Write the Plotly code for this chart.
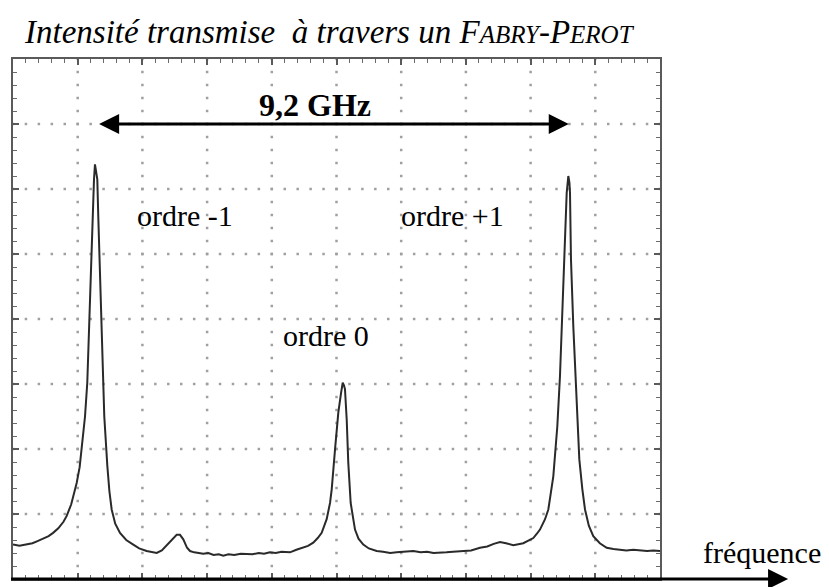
import numpy as np
import plotly.graph_objects as go

# Oscilloscope trace of the Fabry-Perot transmission (screen divisions)
freq_div = [
    0.00, 0.10, 0.20, 0.30, 0.37, 0.45, 0.55, 0.62, 0.70, 0.78,
    0.83, 0.90, 0.985, 1.03, 1.062, 1.09, 1.113, 1.148, 1.179, 1.206,
    1.232, 1.252, 1.267, 1.285, 1.303, 1.318, 1.345, 1.380, 1.411, 1.458,
    1.49, 1.525, 1.58, 1.654, 1.75, 1.859, 1.95, 2.066, 2.15, 2.221,
    2.30, 2.38, 2.44, 2.478, 2.53, 2.581, 2.632, 2.69, 2.736, 2.80,
    2.87, 2.941, 3.02, 3.10, 3.18, 3.25, 3.33, 3.42, 3.52, 3.612,
    3.70, 3.80, 3.88, 3.972, 4.06, 4.15, 4.22, 4.281, 4.38, 4.487,
    4.56, 4.641, 4.71, 4.771, 4.848, 4.90, 4.926, 4.977, 5.028, 5.07,
    5.096, 5.115, 5.131, 5.158, 5.182, 5.219, 5.25, 5.286, 5.34, 5.414,
    5.50, 5.621, 5.72, 5.83, 5.93, 6.05, 6.187, 6.30, 6.40, 6.50,
    6.60, 6.70, 6.80, 6.96, 7.08, 7.218, 7.33, 7.43, 7.527, 7.62,
    7.733, 7.887, 7.97, 8.042, 8.10, 8.145, 8.223, 8.274, 8.351, 8.413,
    8.454, 8.490, 8.521, 8.558, 8.583, 8.600, 8.609, 8.624, 8.660, 8.702,
    8.753, 8.80, 8.841, 8.90, 8.969, 9.07, 9.176, 9.28, 9.38, 9.48,
    9.587, 9.70, 9.80, 9.90, 10.0,
]
intensity_div = [
    0.53, 0.51, 0.53, 0.55, 0.58, 0.62, 0.66, 0.71, 0.78, 0.88,
    0.97, 1.15, 1.48, 1.72, 1.99, 2.25, 2.50, 3.02, 3.94, 4.92,
    5.84, 6.15, 6.38, 6.25, 6.15, 5.58, 4.56, 3.53, 2.50, 1.74,
    1.35, 1.07, 0.85, 0.71, 0.60, 0.53, 0.47, 0.43, 0.41, 0.40,
    0.44, 0.52, 0.58, 0.62, 0.68, 0.68, 0.61, 0.48, 0.43, 0.41,
    0.40, 0.39, 0.40, 0.37, 0.38, 0.36, 0.38, 0.37, 0.39, 0.39,
    0.38, 0.40, 0.39, 0.41, 0.40, 0.42, 0.41, 0.41, 0.45, 0.48,
    0.51, 0.56, 0.63, 0.71, 0.92, 1.17, 1.38, 1.99, 2.56, 2.86,
    3.02, 2.98, 2.92, 2.45, 1.79, 1.17, 0.95, 0.76, 0.62, 0.53,
    0.47, 0.43, 0.42, 0.40, 0.41, 0.42, 0.43, 0.41, 0.42, 0.40,
    0.40, 0.41, 0.42, 0.43, 0.44, 0.48, 0.50, 0.54, 0.57, 0.55,
    0.52, 0.55, 0.59, 0.63, 0.70, 0.76, 0.92, 1.07, 1.58, 2.35,
    3.12, 4.15, 5.17, 5.94, 6.20, 6.10, 5.94, 4.92, 3.89, 2.86,
    1.84, 1.38, 1.07, 0.82, 0.66, 0.55, 0.48, 0.46, 0.45, 0.44,
    0.45, 0.44, 0.43, 0.44, 0.43,
]
assert len(freq_div) == len(intensity_div)

# Order labels: text, x, y (divisions)
order_labels = ["ordre -1", "ordre 0", "ordre +1"]
order_label_x = [2.66, 4.84, 6.79]
order_label_y = [5.59, 3.74, 5.59]

# Free spectral range arrow between orders -1 and +1
fsr_text = "9,2 GHz"
fsr_ends = [1.33, 8.59]
fsr_level = 7.0

N_X_DIV, N_Y_DIV = 10, 8

fig = go.Figure()

# dotted graticule: a dot every fifth of a division along each major line
gx, gy = [], []
sub = np.round(np.arange(0, N_Y_DIV + 1e-9, 0.2), 3)
for xv in range(1, N_X_DIV):
    gx += [xv] * len(sub)
    gy += list(sub)
sub = np.round(np.arange(0, N_X_DIV + 1e-9, 0.2), 3)
for yv in range(1, N_Y_DIV):
    gx += list(sub)
    gy += [yv] * len(sub)
fig.add_trace(go.Scatter(
    x=gx, y=gy, mode="markers", hoverinfo="skip",
    marker=dict(symbol="square", size=2.5, color="#a0a0a0", line=dict(width=0)),
))

fig.add_trace(go.Scatter(
    x=freq_div, y=intensity_div, mode="lines",
    line=dict(color="#2a2a2a", width=2),
))

serif = "Liberation Serif, Times New Roman, serif"

# horizontal double arrow
dx_head, dy_head = 0.31, 0.155
a, b = fsr_ends
fig.add_shape(type="line", x0=a + dx_head * 0.8, x1=b - dx_head * 0.8,
              y0=fsr_level, y1=fsr_level, line=dict(color="black", width=3))
fig.add_shape(type="path",
              path=f"M {a} {fsr_level} L {a + dx_head} {fsr_level + dy_head} "
                   f"L {a + dx_head} {fsr_level - dy_head} Z",
              fillcolor="black", line=dict(width=0))
fig.add_shape(type="path",
              path=f"M {b} {fsr_level} L {b - dx_head} {fsr_level + dy_head} "
                   f"L {b - dx_head} {fsr_level - dy_head} Z",
              fillcolor="black", line=dict(width=0))
fig.add_annotation(x=4.67, y=7.30, text=f"<b>{fsr_text}</b>",
                   showarrow=False, font=dict(family=serif, size=32, color="black"))

for txt, xv, yv in zip(order_labels, order_label_x, order_label_y):
    fig.add_annotation(x=xv, y=yv, text=txt, showarrow=False,
                       font=dict(family=serif, size=30, color="black"))

# frequency axis: thick baseline with arrow head, extending past the screen
tip, back, half = 1.198, 1.167, 0.0192
fig.add_shape(type="line", xref="paper", yref="paper", x0=-0.003, x1=back + 0.005,
              y0=0, y1=0, line=dict(color="black", width=3))
fig.add_shape(type="path", xref="paper", yref="paper",
              path=f"M {tip} 0 L {back} {half} L {back} {-half} Z",
              fillcolor="black", line=dict(width=0))
fig.add_annotation(xref="paper", yref="paper", x=1.157, y=0.015, text="fréquence",
                   showarrow=False, xanchor="center",
                   font=dict(family=serif, size=30, color="black"))

fig.add_annotation(
    xref="paper", yref="paper", x=0.0139, y=1.09, xanchor="left",
    text="<i>Intensité transmise  à travers un F<span style='font-size:25px'>ABRY</span>"
         "-P<span style='font-size:25px'>EROT</span></i>",
    showarrow=False, font=dict(family=serif, size=33, color="black"),
)

axis_common = dict(
    showgrid=False, zeroline=False, showticklabels=False,
    showline=True, linecolor="#5a5a5a", linewidth=2, mirror="allticks",
    ticks="inside", ticklen=6, tickcolor="#5a5a5a", tickwidth=1.5,
    minor=dict(ticks="inside", ticklen=4, tickcolor="#6a6a6a", tickwidth=1.2),
)
fig.update_xaxes(range=[0, N_X_DIV], dtick=1, **axis_common)
fig.update_yaxes(range=[0, N_Y_DIV], dtick=1, **axis_common)
fig.update_xaxes(minor_dtick=0.2)
fig.update_yaxes(minor_dtick=0.2)

fig.update_layout(
    width=829, height=587,
    margin=dict(l=13, r=169, t=59, b=8),
    paper_bgcolor="white", plot_bgcolor="white",
    showlegend=False,
)

fig.write_html("out.html")
